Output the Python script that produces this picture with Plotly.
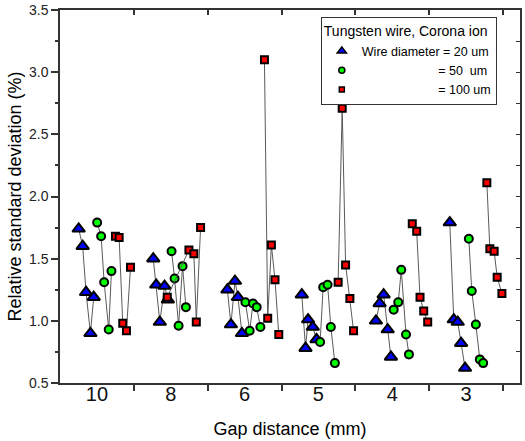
import plotly.graph_objects as go

gap_labels = ['10', '8', '6', '5', '4', '3']

# x positions (category units, group i centred at i) and values, per gap group
blue_x = [[-0.247, -0.193, -0.147, -0.088, -0.043],
          [0.763, 0.803, 0.852, 0.916, 0.961],
          [1.767, 1.815, 1.870, 1.910, 1.964],
          [2.775, 2.825, 2.860, 2.924, 2.974],
          [3.779, 3.829, 3.883, 3.938, 3.982],
          [4.779, 4.833, 4.887, 4.932, 4.986]]
blue_y = [[1.74, 1.60, 1.23, 0.90, 1.19],
          [1.50, 1.29, 0.99, 1.28, 1.17],
          [1.25, 0.97, 1.32, 1.19, 0.90],
          [1.21, 0.78, 1.01, 0.95, 0.85],
          [1.00, 1.14, 1.21, 0.93, 0.71],
          [1.79, 1.01, 0.99, 0.82, 0.62]]

green_x = [[0.003, 0.057, 0.098, 0.160, 0.197],
           [1.011, 1.052, 1.106, 1.160, 1.205],
           [2.011, 2.069, 2.114, 2.164, 2.214],
           [3.023, 3.064, 3.124, 3.168, 3.223],
           [4.019, 4.081, 4.122, 4.186, 4.226],
           [5.037, 5.077, 5.132, 5.186, 5.231]]
green_y = [[1.79, 1.68, 1.31, 0.93, 1.40],
           [1.56, 1.34, 0.96, 1.44, 1.11],
           [1.15, 0.92, 1.14, 1.11, 0.95],
           [0.83, 1.27, 1.29, 0.95, 0.66],
           [1.09, 1.15, 1.41, 0.89, 0.73],
           [1.66, 1.24, 0.97, 0.69, 0.66]]

red_x = [[0.251, 0.301, 0.350, 0.400, 0.455],
         [0.953, 1.246, 1.313, 1.346, 1.404],
         [2.269, 2.313, 2.363, 2.412, 2.463],
         [3.267, 3.322, 3.368, 3.426, 3.476],
         [4.271, 4.331, 4.376, 4.426, 4.480],
         [5.281, 5.322, 5.380, 5.421, 5.485]]
red_y = [[1.68, 1.67, 0.98, 0.92, 1.43],
         [1.19, 1.57, 1.54, 0.99, 1.75],
         [3.10, 1.02, 1.61, 1.33, 0.89],
         [1.31, 2.71, 1.45, 1.18, 0.92],
         [1.78, 1.72, 1.19, 1.08, 0.99],
         [2.11, 1.58, 1.56, 1.35, 1.22]]

legend_title = 'Tungsten wire, Corona ion'
names = ['Wire diameter = 20 um',
         '\u00a0' * 22 + '= 50\u00a0\u00a0um',
         '\u00a0' * 22 + '= 100 um']


def flatten(groups):
    out = []
    for g in groups:
        out.extend(g)
        out.append(None)
    return out


FONT = 'Liberation Sans, Arial, sans-serif'
LINE = 'rgb(90,90,90)'
AX = '#333'

series = [
    (blue_x, blue_y, 'triangle-up', '#0000FF', 11, 8),
    (green_x, green_y, 'circle', '#00FF00', 8, 6),
    (red_x, red_y, 'square', '#FF0000', 7, 5),
]

fig = go.Figure()
for (xs, ys, sym, col, sz, lsz), nm in zip(series, names):
    fig.add_trace(go.Scatter(
        x=flatten(xs), y=flatten(ys), mode='lines+markers',
        line=dict(color=LINE, width=1),
        marker=dict(symbol=sym, color=col, size=sz,
                    line=dict(color='black', width=2)),
        showlegend=False, connectgaps=False))
for (xs, ys, sym, col, sz, lsz), nm in zip(series, names):
    fig.add_trace(go.Scatter(
        x=[None], y=[None], mode='markers', name=nm,
        marker=dict(symbol=sym, color=col, size=lsz,
                    line=dict(color='black', width=1.5))))

# overlay axes for inside ticks on top / right
fig.add_trace(go.Scatter(x=[None], y=[None], xaxis='x2', yaxis='y2',
                         showlegend=False, hoverinfo='skip'))

XR = [-0.5, 5.73]
YR = [0.5, 3.5]
bounds = [i + 0.5 for i in range(6)]

fig.update_layout(
    width=525, height=441,
    margin=dict(l=60, r=5, t=10, b=58, autoexpand=False),
    plot_bgcolor='white', paper_bgcolor='white',
    font=dict(family=FONT, color='black'),
    xaxis=dict(range=XR, tickvals=list(range(6)), ticktext=gap_labels,
               ticks='', showgrid=False, zeroline=False, automargin=False,
               showline=True, linecolor=AX, linewidth=1.5, mirror=True,
               tickfont=dict(size=20, family=FONT, color='#111'),
               ticklabelstandoff=-8,
               minor=dict(tickvals=bounds, ticks='outside', ticklen=6,
                          tickcolor=AX, tickwidth=1.5, showgrid=False),
               title=dict(text='Gap distance (mm)', font=dict(size=18, family=FONT),
                          standoff=19)),
    yaxis=dict(range=YR, dtick=0.5, tick0=0.5, tickformat='.1f',
               ticks='outside', ticklen=7, tickcolor=AX, tickwidth=1.5,
               showgrid=False, zeroline=False, automargin=False,
               showline=True, linecolor=AX, linewidth=1.5, mirror=True,
               tickfont=dict(size=14, family=FONT, color='#222'),
               minor=dict(dtick=0.25, ticks='outside', ticklen=3,
                          tickcolor=AX, showgrid=False),
               title=dict(text='Relative standard deviation (%)',
                          font=dict(size=18, family=FONT), standoff=3)),
    xaxis2=dict(range=XR, overlaying='x', side='top', tickvals=bounds,
                ticks='inside', ticklen=5, tickcolor=AX, tickwidth=1.5,
                showticklabels=False, showgrid=False, zeroline=False, showline=False),
    yaxis2=dict(range=YR, overlaying='y', side='right', dtick=0.25, tick0=0.5,
                ticks='inside', ticklen=4, tickcolor=AX, tickwidth=1,
                showticklabels=False, showgrid=False, zeroline=False, showline=False),
    legend=dict(x=0.567, y=0.981, xanchor='left', yanchor='top',
                bordercolor=AX, borderwidth=1, bgcolor='white',
                font=dict(size=12.5, family=FONT),
                title=dict(text=legend_title, font=dict(size=14, family=FONT)),
                tracegroupgap=0, itemwidth=30),
)

fig.write_html('out.html', config={'displayModeBar': False},
               post_script="document.body.style.margin='0';")
